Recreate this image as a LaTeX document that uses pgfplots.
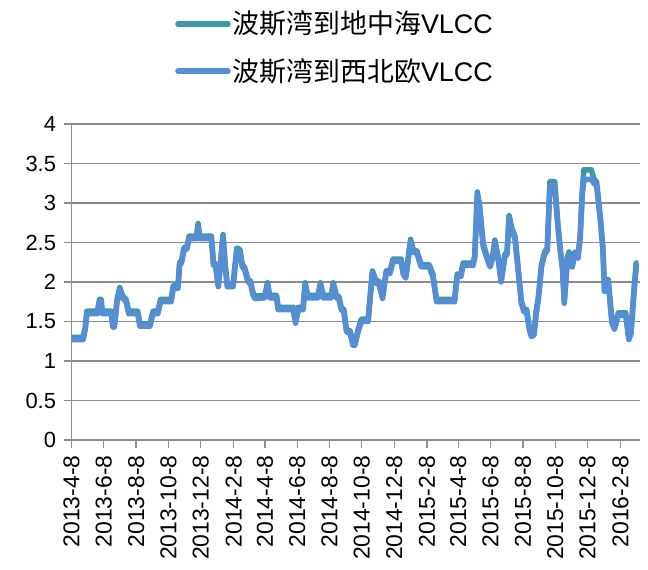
\documentclass[border=0pt]{standalone}
\usepackage{pgfplots}
\pgfplotsset{compat=1.18}
\usepackage{pgfplotstable}
\usepackage{fontspec}
\setmainfont{Liberation Sans}
\newfontfamily\cjk{Noto Sans CJK SC}
\definecolor{teal1}{RGB}{62,150,170}
\definecolor{blue1}{RGB}{85,142,213}
\definecolor{gridg}{RGB}{140,140,140}

\pgfplotstableread{
d teal blue
0 1.30 1.27
22 1.30 1.27
26 1.43 1.40
29 1.63 1.60
49 1.63 1.60
53 1.78 1.75
56 1.78 1.75
58 1.63 1.60
75 1.63 1.60
78 1.46 1.43
81 1.46 1.43
86 1.78 1.75
91 1.93 1.90
96 1.83 1.80
103 1.78 1.75
108 1.63 1.60
125 1.63 1.60
129 1.47 1.44
148 1.47 1.44
154 1.63 1.60
163 1.63 1.60
168 1.78 1.75
188 1.78 1.75
192 1.95 1.92
201 1.95 1.92
204 2.24 2.21
208 2.28 2.25
212 2.43 2.40
218 2.45 2.42
222 2.58 2.55
236 2.58 2.55
239 2.74 2.70
242 2.58 2.55
264 2.58 2.55
268 2.24 2.21
272 2.23 2.20
277 1.97 1.94
281 2.23 2.20
286 2.60 2.57
290 2.23 2.20
294 1.97 1.94
305 1.97 1.94
312 2.43 2.40
318 2.41 2.38
322 2.23 2.20
327 2.18 2.15
333 2.03 2.00
338 2.01 1.98
342 1.88 1.85
346 1.82 1.79
365 1.83 1.80
370 1.99 1.96
374 1.83 1.80
387 1.83 1.80
390 1.68 1.65
418 1.68 1.65
423 1.51 1.48
428 1.68 1.65
437 1.68 1.65
441 1.99 1.96
446 1.83 1.80
465 1.83 1.80
470 1.99 1.96
475 1.83 1.80
490 1.83 1.80
494 1.99 1.96
500 1.83 1.80
505 1.81 1.78
509 1.68 1.65
514 1.65 1.62
519 1.40 1.37
526 1.38 1.35
531 1.23 1.20
535 1.23 1.20
541 1.40 1.37
547 1.53 1.50
560 1.53 1.50
562 1.70 1.67
568 2.14 2.11
575 2.01 1.98
580 2.01 1.98
587 1.82 1.79
594 2.14 2.11
601 2.14 2.11
607 2.29 2.26
622 2.29 2.26
626 2.13 2.10
631 2.08 2.05
640 2.54 2.51
645 2.41 2.38
652 2.39 2.36
660 2.22 2.19
675 2.22 2.19
682 2.10 2.07
689 1.78 1.75
723 1.78 1.75
728 2.10 2.07
735 2.10 2.07
739 2.24 2.21
758 2.24 2.21
761 2.33 2.30
766 3.14 3.10
770 2.98 2.95
777 2.48 2.45
783 2.35 2.32
790 2.22 2.19
795 2.33 2.30
799 2.53 2.50
805 2.33 2.30
811 2.03 2.00
818 2.35 2.32
822 2.38 2.35
826 2.84 2.81
831 2.68 2.65
837 2.58 2.55
843 2.18 2.15
849 1.76 1.73
854 1.65 1.62
859 1.65 1.62
864 1.43 1.40
868 1.34 1.31
873 1.36 1.33
877 1.63 1.60
881 1.80 1.77
887 2.22 2.19
893 2.38 2.35
898 2.43 2.40
903 3.27 3.22
912 3.27 3.22
918 2.73 2.70
923 2.39 2.36
927 2.18 2.15
930 1.76 1.73
936 2.31 2.28
939 2.38 2.35
945 2.22 2.19
950 2.38 2.35
956 2.33 2.30
960 2.58 2.55
964 3.15 3.10
967 3.42 3.30
981 3.42 3.30
986 3.30 3.25
991 3.27 3.22
998 2.83 2.80
1003 2.43 2.40
1006 1.91 1.88
1013 2.03 2.00
1020 1.51 1.48
1025 1.43 1.40
1032 1.61 1.58
1046 1.61 1.58
1052 1.30 1.27
1056 1.38 1.35
1062 1.93 1.90
1066 2.24 2.21
1070 2.24 2.21
}\datatable

\begin{document}
\fontsize{22}{26}\selectfont
\begin{tikzpicture}
\useasboundingbox (0,0) rectangle (648bp,570bp);
\begin{axis}[
  at={(71.5bp,130bp)}, anchor=south west,
  scale only axis, width=568.5bp, height=316bp,
  xmin=0, xmax=1073, ymin=0, ymax=4,
  axis x line*=bottom, axis y line*=left,
  axis line style={gridg, line width=1.3bp, -},
  ytick={0,0.5,1,1.5,2,2.5,3,3.5,4},
  yticklabels={0,0.5,1,1.5,2,2.5,3,3.5,4},
  xtick={0,61,122,183,244,306,365,426,487,548,609,671,730,791,852,913,974,1036},
  xticklabels={2013-4-8,2013-6-8,2013-8-8,2013-10-8,2013-12-8,2014-2-8,2014-4-8,2014-6-8,2014-8-8,2014-10-8,2014-12-8,2015-2-8,2015-4-8,2015-6-8,2015-8-8,2015-10-8,2015-12-8,2016-2-8},
  xticklabel style={rotate=90, anchor=east, font=\fontsize{23}{27}\selectfont},
  yticklabel style={font=\fontsize{22}{26}\selectfont},
  ymajorgrids, grid style={gridg, line width=1.3bp},
  tick style={gridg, line width=1.3bp},
  tick align=outside, major tick length=8bp,
  legend style={draw=none, fill=none, at={(0.4635,1.371)}, anchor=north,
    font=\fontsize{27}{31}\selectfont, row sep=17bp},
  legend cell align=left,
  legend image code/.code={\draw[#1, line cap=round] (0bp,0bp) -- (50bp,0bp);},
]
\addplot[teal1, line width=5.5bp, line join=round] table[x=d, y=teal] {\datatable};
\addlegendentry{{\cjk 波斯湾到地中海}VLCC}
\addplot[blue1, line width=5.5bp, line join=round] table[x=d, y=blue] {\datatable};
\addlegendentry{{\cjk 波斯湾到西北欧}VLCC}
\end{axis}
\end{tikzpicture}
\end{document}
